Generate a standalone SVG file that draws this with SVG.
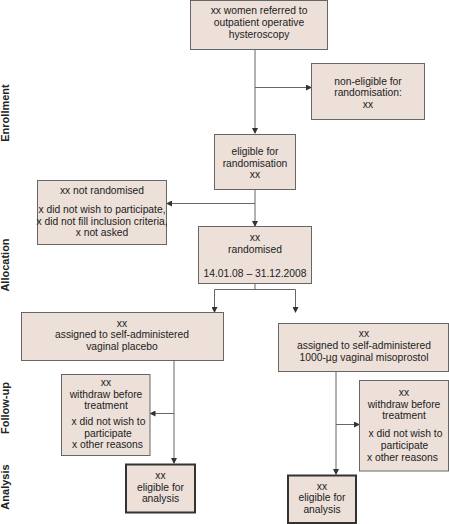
<svg xmlns="http://www.w3.org/2000/svg" width="449" height="524" viewBox="0 0 449 524">
<defs>
<marker id="ah" markerWidth="6" markerHeight="6" refX="5" refY="3" orient="auto" markerUnits="userSpaceOnUse">
<path d="M0,0 L6,3 L0,6 Z" fill="#333"/>
</marker>
<style>
.box{fill:#ece0d9;stroke:#666;stroke-width:1}
.thick{fill:#ece0d9;stroke:#333;stroke-width:2}
.t{font-family:"Liberation Sans",Arial,sans-serif;font-size:10.3px;fill:#222;text-anchor:middle}
.side{font-family:"Liberation Sans",Arial,sans-serif;font-size:11px;font-weight:bold;fill:#222;text-anchor:middle}
.c{fill:none;stroke:#666;stroke-width:1}
</style>
</defs>
<rect width="449" height="524" fill="#fff"/>

<g id="labels">
<text class="side" transform="translate(9,113) rotate(-90)">Enrollment</text>
<text class="side" transform="translate(9,265) rotate(-90)">Allocation</text>
<text class="side" transform="translate(9,408) rotate(-90)">Follow-up</text>
<text class="side" transform="translate(9,487) rotate(-90)">Analysis</text>
</g>

<g id="connectors">
<path class="c" d="M255,49.5 V133" marker-end="url(#ah)"/>
<path class="c" d="M255,87.5 H311" marker-end="url(#ah)"/>
<path class="c" d="M255,189.5 V226" marker-end="url(#ah)"/>
<path class="c" d="M255,203.5 H167" marker-end="url(#ah)"/>
<path class="c" d="M255,283.5 V289.5 M214.5,289.5 H295.5"/>
<path class="c" d="M214.5,289.5 V312" marker-end="url(#ah)"/>
<path class="c" d="M295.5,289.5 V312" marker-end="url(#ah)"/>
<path class="c" d="M174,361 V463" marker-end="url(#ah)"/>
<path class="c" d="M174,413.5 H150.5" marker-end="url(#ah)"/>
<path class="c" d="M336,372 V474" marker-end="url(#ah)"/>
<path class="c" d="M336,424.5 H359" marker-end="url(#ah)"/>
</g>

<g id="n1">
<rect class="box" x="190.5" y="0.5" width="137" height="49"/>
<text class="t" x="259" y="14">xx women referred to</text>
<text class="t" x="259" y="26">outpatient operative</text>
<text class="t" x="259" y="37.5">hysteroscopy</text>
</g>

<g id="n2">
<rect class="box" x="311.5" y="63.5" width="113" height="56"/>
<text class="t" x="368" y="84.5">non-eligible for</text>
<text class="t" x="368" y="96">randomisation:</text>
<text class="t" x="368" y="107.5">xx</text>
</g>

<g id="n3">
<rect class="box" x="214.5" y="134.5" width="81" height="55"/>
<text class="t" x="255" y="155">eligible for</text>
<text class="t" x="255" y="166.5">randomisation</text>
<text class="t" x="255" y="178">xx</text>
</g>

<g id="n4">
<rect class="box" x="37.5" y="180.5" width="129" height="64"/>
<text class="t" x="102" y="193.5">xx not randomised</text>
<text class="t" x="102" y="213">x did not wish to participate,</text>
<text class="t" x="102" y="224.5">x did not fill inclusion criteria,</text>
<text class="t" x="102" y="236">x not asked</text>
</g>

<g id="n5">
<rect class="box" x="198.5" y="226.5" width="113" height="57"/>
<text class="t" x="255" y="241">xx</text>
<text class="t" x="255" y="252.5">randomised</text>
<text class="t" x="255" y="277">14.01.08 – 31.12.2008</text>
</g>

<g id="n6">
<rect class="box" x="21.5" y="312.5" width="202" height="48"/>
<text class="t" x="122" y="326.5">xx</text>
<text class="t" x="122" y="338">assigned to self-administered</text>
<text class="t" x="122" y="349.5">vaginal placebo</text>
</g>

<g id="n7">
<rect class="box" x="278.5" y="323.5" width="170" height="48"/>
<text class="t" x="364" y="337">xx</text>
<text class="t" x="364" y="348.5">assigned to self-administered</text>
<text class="t" x="364" y="360.5">1000-µg vaginal misoprostol</text>
</g>

<g id="n8">
<rect class="box" x="61.5" y="374.5" width="88.5" height="81"/>
<text class="t" x="106" y="386">xx</text>
<text class="t" x="106" y="397.5">withdraw before</text>
<text class="t" x="106" y="409">treatment</text>
<text class="t" x="108.5" y="425">x did not wish to</text>
<text class="t" x="108" y="436.5">participate</text>
<text class="t" x="107.5" y="448">x other reasons</text>
</g>

<g id="n9">
<rect class="box" x="359.5" y="380.5" width="89" height="90.5"/>
<text class="t" x="404" y="396">xx</text>
<text class="t" x="404" y="407.5">withdraw before</text>
<text class="t" x="404" y="419">treatment</text>
<text class="t" x="405.5" y="436.5">x did not wish to</text>
<text class="t" x="404.5" y="448.5">participate</text>
<text class="t" x="402.5" y="460.5">x other reasons</text>
</g>

<g id="n10">
<rect class="thick" x="126" y="464.5" width="69" height="48"/>
<text class="t" x="160.5" y="479">xx</text>
<text class="t" x="160.5" y="490.5">eligible for</text>
<text class="t" x="160.5" y="502">analysis</text>
</g>

<g id="n11">
<rect class="thick" x="288" y="475.5" width="68" height="47.5"/>
<text class="t" x="322" y="489.5">xx</text>
<text class="t" x="322" y="501">eligible for</text>
<text class="t" x="322" y="512.5">analysis</text>
</g>
</svg>
